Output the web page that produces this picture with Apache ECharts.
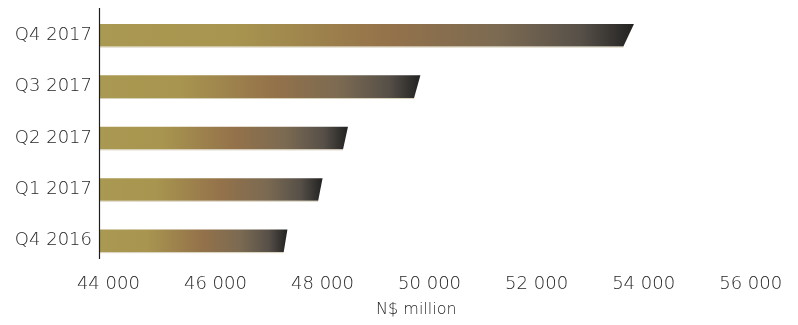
<!DOCTYPE html>
<html>
<head>
<meta charset="utf-8">
<title>N$ million by quarter</title>
<script src="https://cdn.jsdelivr.net/npm/echarts@6/dist/echarts.min.js"></script>
<style>
  html, body { margin: 0; padding: 0; background: #ffffff; }
  #chart { width: 798px; height: 325px; }
</style>
</head>
<body>
<div id="chart"></div>
<script>
// Quarters, bottom to top
const quarters = ['Q4 2016', 'Q1 2017', 'Q2 2017', 'Q3 2017', 'Q4 2017'];
// Values in N$ million
const values = [47310, 47960, 48430, 49770, 53720];
// Labelled ticks on the value axis
const tickValues = [44000, 46000, 48000, 50000, 52000, 54000, 56000];

// The value axis starts a little short of the first labelled tick
const axisMin = 43843;
const axisMax = 56000;

const fmt = v => String(v).replace(/\B(?=(\d{3})+(?!\d))/g, ' ');

const FONT = 'DejaVu Sans';
const FONT_WEIGHT = 200;
const TEXT_COLOR = '#262626';

// Gold to bronze to charcoal along each bar
const barFill = {
  type: 'linear', x: 0, y: 0, x2: 1, y2: 0,
  colorStops: [
    { offset: 0.00, color: '#aa9952' },
    { offset: 0.25, color: '#a8954f' },
    { offset: 0.54, color: '#94724a' },
    { offset: 0.75, color: '#7b6a52' },
    { offset: 0.90, color: '#575048' },
    { offset: 1.00, color: '#222222' }
  ]
};

function renderBar(params, api) {
  const v = api.value(0);
  const c = api.value(1);
  const end = api.coord([v, c]);
  const start = api.coord([axisMin, c]);
  const h = api.size([0, 1])[1] * 0.44;
  const yTop = end[1] - h / 2;
  const yBot = end[1] + h / 2;
  const len = end[0] - start[0];
  // slanted cut at the bar's end, wider on longer bars
  const slant = len * 0.02;
  return {
    type: 'group',
    children: [
      {
        type: 'polygon',
        shape: {
          points: [
            [start[0], yTop],
            [end[0] + slant / 2, yTop],
            [end[0] - slant / 2, yBot],
            [start[0], yBot]
          ]
        },
        style: { fill: barFill }
      },
      {
        type: 'line',
        shape: { x1: start[0], y1: yBot + 0.5, x2: end[0] - slant / 2, y2: yBot + 0.5 },
        style: { stroke: 'rgba(196,186,156,0.7)', lineWidth: 1 }
      }
    ]
  };
}

const chart = echarts.init(document.getElementById('chart'), null, { renderer: 'canvas' });

chart.setOption({
  animation: false,
  backgroundColor: '#ffffff',
  grid: { left: 100, right: 47.3, top: 9.6, bottom: 58.5, containLabel: false },
  xAxis: {
    type: 'value',
    min: axisMin,
    max: axisMax,
    axisLine: { show: false },
    axisTick: { show: false },
    splitLine: { show: false },
    axisLabel: {
      customValues: tickValues,
      formatter: fmt,
      color: TEXT_COLOR,
      fontFamily: FONT,
      fontWeight: FONT_WEIGHT,
      fontSize: 18,
      margin: 9
    },
    name: 'N$ million',
    nameLocation: 'middle',
    nameGap: 35,
    nameTextStyle: {
      color: TEXT_COLOR,
      fontFamily: FONT,
      fontWeight: FONT_WEIGHT,
      fontSize: 16,
      padding: [0, 18, 0, 0]
    }
  },
  yAxis: {
    type: 'category',
    data: quarters,
    axisLine: { show: false },
    axisTick: { show: false },
    splitLine: { show: false },
    axisLabel: {
      color: TEXT_COLOR,
      fontFamily: FONT,
      fontWeight: FONT_WEIGHT,
      fontSize: 18,
      margin: 8
    }
  },
  graphic: [
    {
      type: 'line',
      z: 100,
      shape: { x1: 99.5, y1: 8, x2: 99.5, y2: 259 },
      style: { stroke: '#1e1e1e', lineWidth: 1.2 }
    }
  ],
  series: [
    {
      type: 'custom',
      renderItem: renderBar,
      encode: { x: 0, y: 1 },
      data: values.map((v, i) => [v, i])
    }
  ]
});
</script>
</body>
</html>
